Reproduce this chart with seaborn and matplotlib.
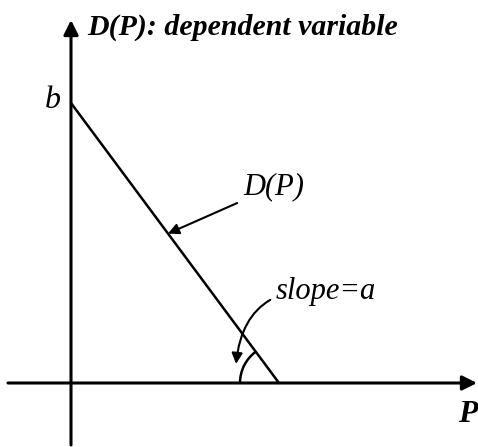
import numpy as np
import pandas as pd
import seaborn as sns
import matplotlib.pyplot as plt
from matplotlib.patches import Arc

# linear demand D(P) = b + a*P
b = 2.8
p_zero = 2.08
a = -b / p_zero

P = [0.0, p_zero]
D = [b, 0.0]

line = pd.DataFrame({"P": P, "D": D})

sns.set_style("white")
plt.rcParams['font.family'] = ['Liberation Serif', 'DejaVu Serif']
plt.rcParams['text.color'] = 'black'

fig = plt.figure(figsize=(4.78, 4.47), dpi=100)
ax = fig.add_axes([0, 0, 1, 1])
ax.set_xlim(-0.71, 4.07)
ax.set_ylim(-0.64, 3.83)
ax.axis("off")

arrow = dict(arrowstyle='-|>', color='black', lw=2.2, mutation_scale=22,
             shrinkA=0, shrinkB=0)
# axes
ax.annotate("", xy=(4.06, 0), xytext=(-0.63, 0), arrowprops=arrow)
ax.annotate("", xy=(0, 3.63), xytext=(0, -0.62), arrowprops=arrow)

sns.lineplot(data=line, x="P", y="D", color="black", lw=1.8, ax=ax)

# angle marker at the P intercept
ang = np.degrees(np.arctan2(b, -p_zero))
ax.add_patch(Arc((p_zero, 0), 0.78, 0.78, theta1=ang, theta2=180,
                 color='black', lw=1.8))

ax.text(0.16, 3.56, "D(P): dependent variable", fontsize=21.5, fontweight='bold',
        fontstyle='italic', va='center', ha='left', color='black')
ax.text(-0.18, 2.82, "b", fontsize=23, fontstyle='italic', va='center', ha='center',
        color='black')
ax.text(3.97, -0.31, "P", fontsize=23, fontweight='bold', fontstyle='italic',
        va='center', ha='center', color='black')

thin = dict(arrowstyle='-|>', color='black', lw=1.5, mutation_scale=16,
            shrinkA=2, shrinkB=0)
ax.annotate("D(P)", xy=(0.97, b + a * 0.97), xytext=(1.72, 1.96),
            fontsize=22, fontstyle='italic', va='center', ha='left',
            color='black', arrowprops=thin)
ax.annotate("slope=a", xy=(1.65, 0.19), xytext=(2.05, 0.92),
            fontsize=22, fontstyle='italic', va='center', ha='left',
            color='black', arrowprops=dict(thin, connectionstyle="arc3,rad=0.5"))

plt.savefig("out.png", dpi=100)
